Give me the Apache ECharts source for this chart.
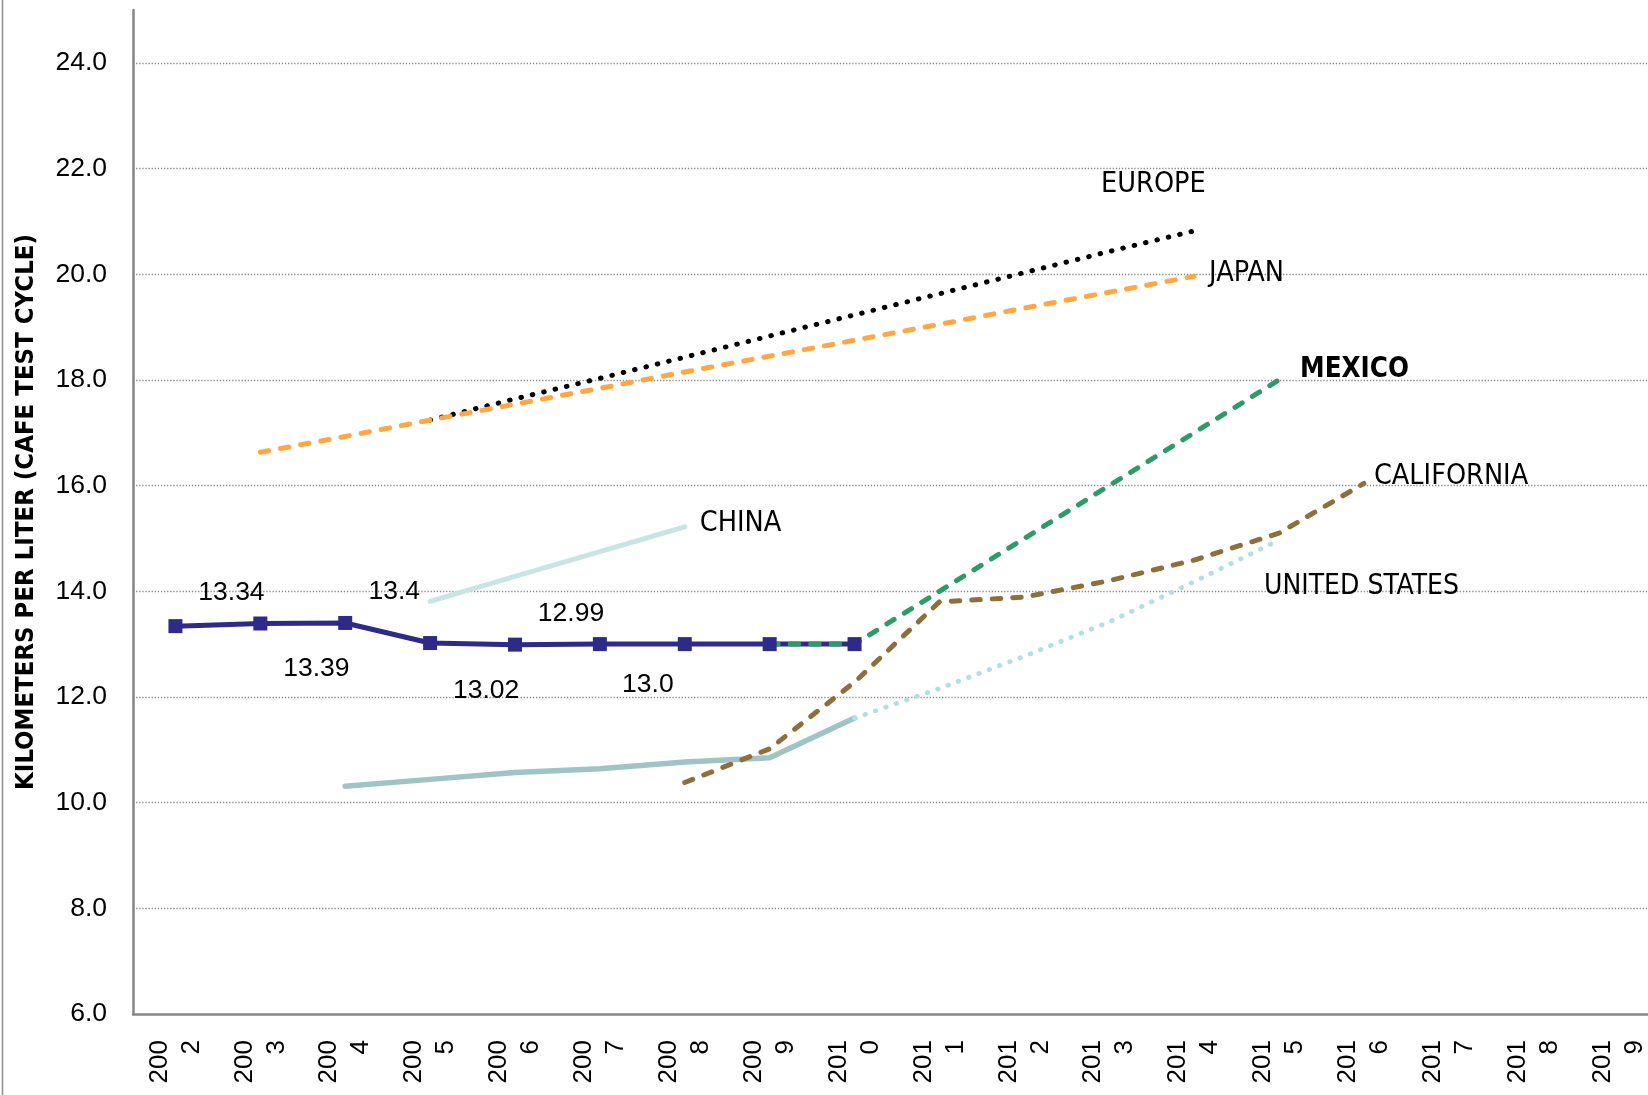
<!DOCTYPE html>
<html>
<head>
<meta charset="utf-8">
<script src="https://cdn.jsdelivr.net/npm/echarts@6/dist/echarts.min.js"></script>
<style>
  html, body { margin: 0; padding: 0; background: #ffffff; }
  #chart { width: 1648px; height: 1095px; }
</style>
</head>
<body>
<div id="chart"></div>
<script>
// Model years on the category axis
const years = ['2002','2003','2004','2005','2006','2007','2008','2009','2010',
               '2011','2012','2013','2014','2015','2016','2017','2018','2019'];

// Fuel economy, km per litre (CAFE test cycle); null = no value for that year
const mexicoActual = [13.34, 13.39, 13.4, 13.02, 12.99, 13.0, 13.0, 13.0, 13.0,
                      null, null, null, null, null, null, null, null, null];
const mexicoTarget = [null, null, null, null, null, null, null, 13.0, 13.0,
                      14.0, 15.0, 16.0, 17.0, 18.0, null, null, null, null];
const japan        = [null, 16.63, 16.93, 17.24, 17.54, 17.84, 18.15, 18.45, 18.75,
                      19.05, 19.36, 19.66, 19.96, null, null, null, null, null];
const europe       = [null, null, null, 17.24, 17.64, 18.03, 18.43, 18.83, 19.23,
                      19.63, 20.03, 20.43, 20.82, null, null, null, null, null];
const china        = [null, null, null, 13.81, 14.28, 14.75, 15.22, null, null,
                      null, null, null, null, null, null, null, null, null];
const usActual     = [null, null, 10.31, 10.44, 10.57, 10.64, 10.77, 10.85, 11.6,
                      null, null, null, null, null, null, null, null, null];
const usTarget     = [null, null, null, null, null, null, null, null, 11.6,
                      12.16, 12.77, 13.42, 14.18, 14.97, null, null, null, null];
const california   = [null, null, null, null, null, null, 10.38, 11.02, 12.28,
                      13.8, 13.89, 14.2, 14.59, 15.1, 16.04, null, null, null];

// Value-axis range and step
const yMin = 6, yMax = 25, yStep = 2;

// Placement of the value labels on the Mexico series (first six years)
const mexicoLabelOffsets = [[56, -33], [56, 45], [49, -31], [56, 48], [56, -31], [48, 41]];

const NARROW = '"Liberation Sans Narrow", "DejaVu Sans Condensed", "Liberation Sans", Arial, sans-serif';
const ARIAL = '"Liberation Sans", Arial, Helvetica, sans-serif';

function fmtValue(v) {
  return Number.isInteger(v) ? v.toFixed(1) : String(v);
}

// Attach a series name label to the last point that has a value
function withEndName(values, text, offset, bold, size) {
  let last = -1;
  values.forEach((v, i) => { if (v != null) last = i; });
  return values.map((v, i) => {
    if (i !== last) return v;
    return {
      value: v,
      symbol: 'circle',
      symbolSize: 1,
      itemStyle: { color: 'rgba(0,0,0,0)' },
      label: {
        show: true,
        position: 'inside',
        align: 'left',
        verticalAlign: 'middle',
        offset: offset,
        formatter: text,
        color: '#000',
        fontFamily: NARROW,
        fontSize: size || 29,
        fontWeight: bold ? 'bold' : 'normal'
      }
    };
  });
}

const mexicoData = mexicoActual.map((v, i) => {
  if (v == null) return v;
  const off = mexicoLabelOffsets[i];
  if (!off) return v;
  return {
    value: v,
    label: {
      show: true,
      position: 'inside',
      offset: off,
      formatter: fmtValue(v),
      color: '#000',
      fontFamily: ARIAL,
      fontSize: 26.5
    }
  };
});

function lineSeries(name, data, color, width, type) {
  return {
    name: name,
    type: 'line',
    data: data,
    symbol: 'none',
    connectNulls: false,
    silent: true,
    lineStyle: { color: color, width: width, type: type, cap: 'round', join: 'round' }
  };
}

const chart = echarts.init(document.getElementById('chart'), null, { renderer: 'canvas' });

chart.setOption({
  animation: false,
  backgroundColor: '#ffffff',
  grid: {
    left: 133,
    top: 10,
    width: 1528,
    bottom: 81,
    containLabel: false,
    outerBoundsMode: 'none'
  },
  graphic: [
    {
      type: 'line',
      shape: { x1: 2.5, y1: 0, x2: 2.5, y2: 1095 },
      style: { stroke: '#8c8c8c', lineWidth: 1.5 },
      silent: true
    }
  ],
  xAxis: {
    type: 'category',
    data: years,
    boundaryGap: true,
    axisLine: { show: true, lineStyle: { color: '#868686', width: 2.5 } },
    axisTick: { show: false },
    splitLine: { show: false },
    axisLabel: {
      interval: 0,
      rotate: 90,
      margin: 26,
      color: '#000',
      fontFamily: ARIAL,
      fontSize: 26,
      lineHeight: 32,
      formatter: s => s.slice(0, 3) + '\n' + s.slice(3)
    }
  },
  yAxis: {
    type: 'value',
    min: yMin,
    max: yMax,
    interval: yStep,
    name: 'KILOMETERS PER LITER (CAFE TEST CYCLE)',
    nameLocation: 'middle',
    nameGap: 94,
    nameTextStyle: {
      color: '#000',
      fontFamily: NARROW,
      fontWeight: 'bold',
      fontSize: 25.5
    },
    axisLine: { show: true, lineStyle: { color: '#868686', width: 2.5 } },
    axisTick: { show: false },
    axisLabel: {
      margin: 26,
      color: '#000',
      fontFamily: ARIAL,
      fontSize: 26.5,
      showMaxLabel: false,
      formatter: v => v.toFixed(1)
    },
    splitLine: {
      show: true,
      showMinLine: false,
      showMaxLine: false,
      lineStyle: { color: '#8a8a8a', width: 1.3, type: [1.3, 1.8] }
    }
  },
  series: [
    lineSeries('Europe', withEndName(europe, 'EUROPE', [-93, -46], false, 28.5),
      '#000000', 5, [0.5, 11.2]),
    lineSeries('Japan', withEndName(japan, 'JAPAN', [15, -3], false, 28.5),
      '#FFA745', 5, [8.5, 12]),
    lineSeries('China', withEndName(china, 'CHINA', [15, -3], false, 28.5),
      '#C8E4E5', 5, 'solid'),
    lineSeries('United States', usActual, '#A0C4C5', 5.5, 'solid'),
    lineSeries('United States target', withEndName(usTarget, 'UNITED STATES', [-15, 47], false, 28),
      '#B3DEE3', 4.8, [0.5, 10.5]),
    lineSeries('California', withEndName(california, 'CALIFORNIA', [10, -7], false, 28.5),
      '#8E6F3B', 5, [8.5, 12]),
    {
      name: 'Mexico',
      type: 'line',
      data: mexicoData,
      symbol: 'rect',
      symbolSize: 14,
      showSymbol: true,
      silent: true,
      itemStyle: { color: '#2E2A87' },
      lineStyle: { color: '#2E2A87', width: 5 },
      label: { show: false }
    },
    lineSeries('Mexico target', withEndName(mexicoTarget, 'MEXICO', [21, -10], true, 27.5),
      '#2F9A69', 5, [8.5, 12])
  ]
});
</script>
</body>
</html>
